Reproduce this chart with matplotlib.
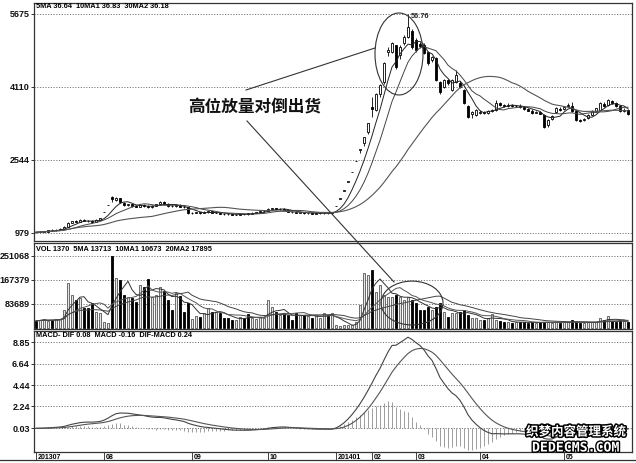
import numpy as np
import pandas as pd
import matplotlib
matplotlib.use('Agg')
import matplotlib.pyplot as plt
from matplotlib.patches import Ellipse
from matplotlib.lines import Line2D
import matplotlib.patheffects as pe
import matplotlib.transforms as mtransforms

# ---------------- data (price in axis units = price x 100) ----------------
opens = [
    1000, 995, 1005, 1010, 1040, 1035, 1050, 1070, 1110, 1200,
    1230, 1225, 1260, 1240, 1230, 1210, 1265, 1430, 1573, 1740,
    1690, 1720, 1620, 1570, 1590, 1550, 1545, 1575, 1560, 1530,
    1560, 1590, 1640, 1610, 1560, 1550, 1580, 1540, 1530, 1400,
    1410, 1420, 1405, 1420, 1440, 1410, 1415, 1390, 1385, 1380,
    1365, 1375, 1385, 1400, 1385, 1410, 1420, 1440, 1450, 1500,
    1510, 1490, 1495, 1480, 1430, 1420, 1415, 1420, 1400, 1405,
    1390, 1400, 1405, 1410, 1400, 1560, 1716, 1888, 2077, 2285,
    2513, 2764, 2900, 3150, 3680, 3620, 3950, 4210, 4850, 4860,
    5000, 4800, 5050, 5180, 5300, 5110, 5040, 5010, 4860, 4690,
    4730, 4216, 4110, 4250, 4050, 4216, 4200, 4050, 3700, 3530,
    3510, 3560, 3580, 3560, 3600, 3620, 3760, 3720, 3700, 3730,
    3700, 3710, 3680, 3640, 3600, 3560, 3580, 3510, 3300, 3420,
    3570, 3640, 3640, 3700, 3700, 3600, 3400, 3400, 3440, 3510,
    3600, 3620, 3740, 3720, 3810, 3760, 3700, 3600, 3620]
closes = [
    995, 1005, 1010, 1040, 1035, 1050, 1070, 1110, 1200, 1230,
    1225, 1260, 1240, 1230, 1210, 1260, 1300, 1430, 1573, 1700,
    1725, 1640, 1580, 1590, 1550, 1545, 1575, 1560, 1530, 1560,
    1590, 1640, 1610, 1560, 1550, 1580, 1540, 1530, 1400, 1410,
    1420, 1405, 1420, 1440, 1410, 1415, 1390, 1385, 1380, 1365,
    1375, 1385, 1380, 1385, 1410, 1420, 1440, 1450, 1500, 1510,
    1490, 1495, 1480, 1430, 1420, 1415, 1420, 1400, 1405, 1390,
    1400, 1405, 1410, 1400, 1420, 1560, 1716, 1888, 2077, 2285,
    2513, 2764, 3040, 3344, 3640, 3960, 4150, 4620, 4900, 5050,
    4540, 4970, 5180, 5400, 4960, 4900, 4990, 4840, 4620, 4750,
    4260, 4000, 4250, 4200, 4260, 4366, 4110, 3770, 3466, 3570,
    3610, 3580, 3560, 3600, 3610, 3760, 3720, 3700, 3730, 3700,
    3710, 3680, 3640, 3600, 3560, 3580, 3540, 3250, 3400, 3480,
    3660, 3620, 3690, 3730, 3600, 3400, 3380, 3420, 3510, 3600,
    3650, 3770, 3700, 3830, 3760, 3700, 3600, 3620, 3530]
highs = [
    1010, 1012, 1020, 1050, 1055, 1060, 1080, 1120, 1210, 1245,
    1250, 1275, 1280, 1255, 1250, 1270, 1310, 1430, 1573, 1770,
    1745, 1730, 1640, 1610, 1600, 1570, 1600, 1590, 1580, 1580,
    1610, 1660, 1660, 1620, 1575, 1600, 1590, 1550, 1530, 1425,
    1435, 1430, 1440, 1455, 1445, 1430, 1420, 1400, 1395, 1390,
    1385, 1395, 1395, 1410, 1420, 1430, 1450, 1465, 1520, 1525,
    1515, 1510, 1505, 1485, 1440, 1435, 1430, 1425, 1415, 1410,
    1410, 1415, 1420, 1415, 1430, 1560, 1716, 1888, 2077, 2285,
    2513, 2764, 3040, 3344, 3900, 3990, 4180, 4650, 4960, 5080,
    5020, 5000, 5220, 5676, 5350, 5150, 5080, 5060, 4880, 4780,
    4750, 4240, 4280, 4280, 4290, 4474, 4230, 4060, 3720, 3600,
    3630, 3610, 3600, 3620, 3640, 3830, 3790, 3750, 3760, 3750,
    3730, 3740, 3700, 3660, 3630, 3600, 3600, 3520, 3420, 3500,
    3680, 3670, 3700, 3760, 3790, 3610, 3430, 3450, 3530, 3620,
    3660, 3790, 3780, 3850, 3840, 3790, 3720, 3660, 3640]
lows = [
    985, 990, 1000, 1005, 1025, 1030, 1045, 1065, 1105, 1190,
    1215, 1220, 1230, 1215, 1200, 1205, 1255, 1430, 1573, 1650,
    1670, 1620, 1560, 1550, 1530, 1530, 1535, 1545, 1520, 1520,
    1550, 1580, 1600, 1545, 1540, 1540, 1530, 1510, 1380, 1390,
    1400, 1395, 1400, 1410, 1400, 1400, 1380, 1375, 1370, 1355,
    1360, 1365, 1370, 1375, 1380, 1400, 1410, 1430, 1445, 1490,
    1480, 1480, 1465, 1420, 1410, 1400, 1405, 1390, 1390, 1380,
    1385, 1395, 1395, 1390, 1395, 1560, 1716, 1888, 2077, 2285,
    2513, 2700, 2850, 3100, 3470, 3600, 3900, 4180, 4780, 4840,
    4500, 4700, 5000, 5150, 4920, 4850, 4950, 4820, 4580, 4650,
    4240, 3960, 4080, 4150, 4030, 4200, 4090, 3740, 3440, 3450,
    3490, 3540, 3540, 3540, 3580, 3600, 3700, 3680, 3690, 3680,
    3680, 3660, 3620, 3590, 3540, 3550, 3520, 3230, 3250, 3400,
    3550, 3600, 3620, 3680, 3580, 3380, 3350, 3380, 3430, 3500,
    3580, 3610, 3680, 3700, 3740, 3680, 3580, 3580, 3510]
volumes_k = [
    25, 28, 30, 25, 28, 30, 32, 63, 157, 115,
    98, 105, 70, 70, 87, 56, 52, 20, 17, 251,
    174, 167, 115, 108, 105, 90, 150, 143, 171, 108,
    115, 143, 128, 98, 63, 122, 112, 56, 87, 30,
    42, 38, 52, 70, 56, 56, 52, 35, 35, 28,
    28, 38, 35, 49, 35, 30, 38, 35, 98, 73,
    56, 45, 52, 45, 28, 52, 45, 45, 42, 35,
    42, 35, 52, 45, 52, 10, 8, 9, 10, 12,
    20, 80, 192, 185, 202, 125, 150, 115, 108, 108,
    115, 108, 98, 108, 98, 87, 63, 63, 73, 63,
    73, 87, 56, 38, 52, 52, 56, 63, 45, 35,
    35, 28, 28, 35, 49, 28, 25, 20, 22, 18,
    20, 22, 20, 18, 20, 18, 20, 22, 20, 18,
    20, 18, 20, 22, 28, 20, 18, 18, 20, 22,
    20, 35, 28, 42, 25, 22, 28, 25, 22]

price_ticks = [979, 2544, 4110, 5675]
vol_ticks = [83689, 167379, 251068]
macd_ticks = [0.03, 2.24, 4.44, 6.64, 8.85]
month_pos = [0, 17, 39, 58, 75, 84, 95, 111, 132]
month_labels = ['201307', '08', '09', '10', '201401', '02', '03', '04', '05']

price_title = '5MA 36.64  10MA1 36.83  30MA2 36.18'
vol_title = 'VOL 1370  5MA 13713  10MA1 10673  20MA2 17895'
macd_title = 'MACD- DIF 0.08  MACD -0.16  DIF-MACD 0.24'
peak_label = '56.76'
note_text = '高位放量对倒出货'

# ---------------- derived series ----------------
o = np.array(opens, float)
c = np.array(closes, float)
h = np.array(highs, float)
l = np.array(lows, float)
v = np.array(volumes_k, float) * 1000
N = len(c)
x = np.arange(N)
cs = pd.Series(c)
ma5 = cs.rolling(5, min_periods=1).mean()
ma10 = cs.rolling(10, min_periods=1).mean()
ma30 = cs.rolling(30, min_periods=1).mean()
vs = pd.Series(v)
vma5 = vs.rolling(5, min_periods=1).mean()
vma10 = vs.rolling(10, min_periods=1).mean()
vma20 = vs.rolling(20, min_periods=1).mean()
real = cs / 100.0
dif = real.ewm(span=12, adjust=False).mean() - real.ewm(span=26, adjust=False).mean()
dea = dif.ewm(span=9, adjust=False).mean()
hist = dif - dea

# ---------------- figure ----------------
W, H = 636, 463
fig = plt.figure(figsize=(W / 100, H / 100), dpi=100)
fig.patch.set_facecolor('white')

def rect(top, bottom, left=34, right=632):
    return [left / W, 1 - bottom / H, (right - left) / W, (bottom - top) / H]

ax1 = fig.add_axes(rect(3, 241))
ax2 = fig.add_axes(rect(243, 329))
ax3 = fig.add_axes(rect(331, 452))

tickfont = dict(fontsize=6.5, fontweight='bold', family=['Liberation Sans', 'DejaVu Sans'])
for ax in (ax1, ax2, ax3):
    ax.set_xlim(-0.5, 149)
    for s in ax.spines.values():
        s.set_color('#333333')
        s.set_linewidth(0.9)
    ax.tick_params(axis='x', bottom=False, labelbottom=False)
    ax.tick_params(axis='y', length=2, width=0.6, pad=1, colors='#111111')

grid_kw = dict(color='#777777', lw=0.7, ls=(0, (1.2, 1.6)), zorder=0)

# price panel
ax1.set_ylim(807, 5910)
ax1.set_yticks(price_ticks)
ax1.set_yticklabels([str(t) for t in price_ticks], **tickfont)
for t in price_ticks:
    ax1.axhline(t, **grid_kw)
up = c >= o
body_bot = np.minimum(o, c)
body_h = np.maximum(np.abs(c - o), 8)
ax1.vlines(x, l, h, color='black', lw=0.6, zorder=2)
ax1.bar(x[up], body_h[up], bottom=body_bot[up], width=0.62, facecolor='white',
        edgecolor='black', lw=0.6, zorder=3)
ax1.bar(x[~up], body_h[~up], bottom=body_bot[~up], width=0.62, facecolor='black',
        edgecolor='black', lw=0.6, zorder=3)
ax1.plot(x, ma5, color='#222222', lw=0.7, zorder=4)
ax1.plot(x, ma10, color='#444444', lw=0.7, zorder=4)
ax1.plot(x, ma30, color='#555555', lw=0.8, zorder=4)
ax1.text(0.004, 0.987, price_title, transform=ax1.transAxes, ha='left', va='center',
         fontsize=5.3, fontweight='bold', family=['Liberation Sans', 'DejaVu Sans'])
ax1.text(93.6, 5610, peak_label, ha='left', va='center', fontsize=5.3, fontweight='bold',
         family=['Liberation Sans', 'DejaVu Sans'], color='#222222')
ax1.add_patch(Ellipse((90.75, 4817), width=12, height=1758, fill=False,
                      ec='#333333', lw=0.8, zorder=5))

# volume panel
ax2.set_ylim(-3500, 296400)
ax2.set_yticks(vol_ticks)
ax2.set_yticklabels([str(t) for t in vol_ticks], **tickfont)
for t in vol_ticks:
    ax2.axhline(t, **grid_kw)
ax2.bar(x[up], v[up], width=0.62, facecolor='#e6e6e6', edgecolor='#555555', lw=0.6, zorder=2)
ax2.bar(x[~up], v[~up], width=0.62, facecolor='black', edgecolor='black', lw=0.6, zorder=2)
ax2.plot(x, vma5, color='#333333', lw=0.7, zorder=3)
ax2.plot(x, vma10, color='#555555', lw=0.7, zorder=3)
ax2.plot(x, vma20, color='#444444', lw=0.7, zorder=3)
ax2.text(0.003, 0.93, vol_title, transform=ax2.transAxes, ha='left', va='center',
         fontsize=5.3, fontweight='bold', family=['Liberation Sans', 'DejaVu Sans'])
ax2.add_patch(Ellipse((94, 87000), width=15.5, height=153000, fill=False,
                      ec='#333333', lw=0.8, zorder=5))

# MACD panel
ax3.set_ylim(-2.43, 9.98)
ax3.set_yticks(macd_ticks)
ax3.set_yticklabels(['%.2f' % t for t in macd_ticks], **tickfont)
for t in macd_ticks:
    ax3.axhline(t, **grid_kw)
ax3.vlines(x, 0, hist, color='#777777', lw=0.5, zorder=2)
ax3.plot(x, dif, color='#444444', lw=0.8, zorder=3)
ax3.plot(x, dea, color='#555555', lw=0.8, zorder=3)
ax3.text(0.003, 0.959, macd_title, transform=ax3.transAxes, ha='left', va='center',
         fontsize=5.3, fontweight='bold', family=['Liberation Sans', 'DejaVu Sans'])

# date labels
bt = mtransforms.blended_transform_factory(ax3.transData, ax3.transAxes)
for p, lab in zip(month_pos, month_labels):
    ax3.plot([p, p], [0, -0.07], transform=bt, color='#222222', lw=0.6, clip_on=False)
    ax3.text(p + 0.4, -0.045, lab, transform=bt, ha='left', va='center', fontsize=5,
             fontweight='bold', family=['Liberation Sans', 'DejaVu Sans'], zorder=1)
fig.add_artist(Line2D([0, 1], [1 - 459.5 / H, 1 - 459.5 / H], color='#333333', lw=0.9))

# annotation
fig.add_artist(Line2D([246 / W, 375 / W], [1 - 90 / H, 1 - 48 / H], color='#333333', lw=0.8))
fig.add_artist(Line2D([247 / W, 394 / W], [1 - 121 / H, 1 - 282 / H], color='#333333', lw=0.8))
fig.text(255 / W, 1 - 107 / H, note_text, ha='center', va='center', fontsize=12,
         fontweight='bold', family=['Noto Sans CJK SC', 'DejaVu Sans'], color='#111111')

# watermark
fig.text(576 / W, 1 - 432 / H, '织梦内容管理系统', ha='center', va='center', fontsize=9,
         fontweight='bold', family=['Noto Sans CJK SC', 'DejaVu Sans'], color='white',
         path_effects=[pe.withStroke(linewidth=2.2, foreground='black')], zorder=10)
fig.text(576 / W, 1 - 448 / H, 'DEDECMS.COM', ha='center', va='center', fontsize=9.5,
         fontweight='bold', family=['DejaVu Sans Mono'], color='white',
         path_effects=[pe.withStroke(linewidth=2.0, foreground='black')], zorder=10)

fig.savefig('out.png', dpi=100, facecolor='white')
